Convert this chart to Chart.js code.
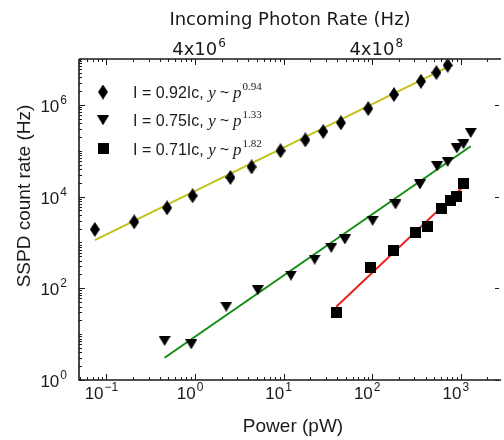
<!DOCTYPE html>
<html>
<head>
<meta charset="utf-8">
<script src="https://cdn.jsdelivr.net/npm/chart.js@4.4.1/dist/chart.umd.min.js"></script>
<style>
    html, body { margin: 0; padding: 0; background: #ffffff; }
    #chart-wrap { width: 504px; height: 440px; position: relative; }
</style>
</head>
<body>
<div id="chart-wrap"><canvas id="sspd-chart"></canvas></div>
<script>
// measured points, power in pW, count rate in Hz
const power_diamond = [0.074, 0.206, 0.484, 0.938, 2.51, 4.35, 9.23, 17.6, 28.0, 44.3, 90.2, 176, 355, 531, 711];
const rate_diamond = [1920, 2810, 5680, 10400, 26100, 44400, 100000, 172000, 262000, 407000, 830000, 1680000, 3270000, 5060000, 7290000];
const power_triangle = [0.453, 0.907, 2.25, 5.11, 12.1, 22.4, 34.5, 49.1, 101, 183, 346, 540, 711, 902, 1072, 1294];
const rate_triangle = [7.1, 6.0, 39.5, 91.4, 189, 422, 763, 1160, 2960, 6730, 18400, 45900, 57000, 112000, 139000, 244000];
const power_square = [39.3, 95, 174, 310, 418, 609, 762, 896, 1072];
const rate_square = [29.9, 280, 656, 1620, 2190, 5590, 8060, 10200, 19300];

// fit line end points
const fit_diamond_power = [0.074, 720];
const fit_diamond_rate = [1120, 6700000];
const fit_triangle_power = [0.453, 1294];
const fit_triangle_rate = [3.06, 125000];
const fit_square_power = [39.3, 1072];
const fit_square_rate = [39.5, 16700];

// legend and axis text
const legend_current = ['I = 0.92Ic, ', 'I = 0.75Ic, ', 'I = 0.71Ic, '];
const legend_exponent = ['0.94', '1.33', '1.82'];
const x_tick_exponents = [-1, 0, 1, 2, 3];
const y_tick_exponents = [0, 2, 4, 6];
const top_tick_powers = [1, 100];
const top_tick_bases = ['4x10', '4x10'];
const top_tick_exponents = ['6', '8'];

const x_title = 'Power (pW)';
const y_title = 'SSPD count rate (Hz)';
const top_title = 'Incoming Photon Rate (Hz)';

const to_points = (xs, ys) => xs.map((x, i) => ({ x: x, y: ys[i] }));

const make_marker = (kind, w, h) => {
    const c = document.createElement('canvas');
    c.width = w;
    c.height = h;
    const g = c.getContext('2d');
    g.fillStyle = '#000000';
    g.beginPath();
    if (kind === 'diamond') {
        g.moveTo(w / 2, 0);
        g.lineTo(w, h / 2);
        g.lineTo(w / 2, h);
        g.lineTo(0, h / 2);
    } else if (kind === 'triangle') {
        g.moveTo(0, 0);
        g.lineTo(w, 0);
        g.lineTo(w / 2, h);
    } else {
        g.rect(0, 0, w, h);
    }
    g.closePath();
    g.fill();
    return c;
};

const diamond_marker = make_marker('diamond', 10, 15);
const triangle_marker = make_marker('triangle', 12, 10);
const square_marker = make_marker('square', 11, 11);
const legend_markers = [diamond_marker, triangle_marker, square_marker];

const draw_power = (ctx, base, sup, x, y, align, base_font, sup_font, rise) => {
    ctx.font = base_font;
    const wb = ctx.measureText(base).width;
    ctx.font = sup_font;
    const ws = ctx.measureText(sup).width;
    const total = wb + 1 + ws;
    let x0 = x;
    if (align === 'center') x0 = x - total / 2;
    if (align === 'right') x0 = x - total;
    ctx.textAlign = 'left';
    ctx.textBaseline = 'alphabetic';
    ctx.font = base_font;
    ctx.fillText(base, x0, y);
    ctx.font = sup_font;
    ctx.fillText(sup, x0 + wb + 1, y - rise);
};

const frame_plugin = {
    id: 'frame_plugin',
    afterDatasetsDraw(chart) {
        const ctx = chart.ctx;
        const area = chart.chartArea;
        const xs = chart.scales.x;
        const ys = chart.scales.y;
        ctx.save();
        ctx.strokeStyle = '#1a1a1a';
        ctx.fillStyle = '#1a1a1a';

        // ticks, pointing inward
        ctx.lineWidth = 1;
        ctx.beginPath();
        for (let k = -2; k <= 3; k++) {
            for (let m = 1; m <= 9; m++) {
                const v = m * Math.pow(10, k);
                if (v < xs.min || v > xs.max) continue;
                const px = Math.round(xs.getPixelForValue(v)) + 0.5;
                const len = m === 1 ? 6 : 3;
                ctx.moveTo(px, area.bottom);
                ctx.lineTo(px, area.bottom - len);
                ctx.moveTo(px, area.top);
                ctx.lineTo(px, area.top + len);
            }
        }
        for (let k = 0; k <= 7; k++) {
            for (let m = 1; m <= 9; m++) {
                const v = m * Math.pow(10, k);
                if (v < ys.min || v > ys.max) continue;
                const py = Math.round(ys.getPixelForValue(v)) + 0.5;
                const major = m === 1 && k % 2 === 0;
                const len = major ? 6 : 3;
                ctx.moveTo(area.left, py);
                ctx.lineTo(area.left + len, py);
                if (major) {
                    ctx.moveTo(area.right, py);
                    ctx.lineTo(area.right - 4, py);
                }
            }
        }
        ctx.stroke();

        // spines
        ctx.lineWidth = 1.6;
        ctx.beginPath();
        ctx.moveTo(area.left, area.top);
        ctx.lineTo(area.right + 2, area.top);
        ctx.moveTo(area.left, area.top);
        ctx.lineTo(area.left, area.bottom);
        ctx.lineTo(area.right + 2, area.bottom);
        ctx.stroke();

        // bottom tick labels
        x_tick_exponents.forEach((e) => {
            const px = xs.getPixelForValue(Math.pow(10, e));
            draw_power(ctx, '10', String(e).replace('-', '\u2212'), px - 5, 399, 'center',
                '17px "Liberation Sans", Arial, sans-serif', '12px "Liberation Sans", Arial, sans-serif', 8);
        });
        // left tick labels
        y_tick_exponents.forEach((e) => {
            const py = ys.getPixelForValue(Math.pow(10, e));
            draw_power(ctx, '10', String(e), 67, py + 7, 'right',
                '17px "Liberation Sans", Arial, sans-serif', '12px "Liberation Sans", Arial, sans-serif', 8);
        });
        // top tick labels
        top_tick_powers.forEach((p, i) => {
            const px = xs.getPixelForValue(p);
            draw_power(ctx, top_tick_bases[i], top_tick_exponents[i], px + 4, 55, 'center',
                '18px "DejaVu Sans", sans-serif', '12px "DejaVu Sans", sans-serif', 8);
        });

        // axis titles
        ctx.textAlign = 'center';
        ctx.textBaseline = 'alphabetic';
        ctx.font = '19px "Liberation Sans", Arial, sans-serif';
        ctx.fillText(x_title, 293, 432);
        ctx.font = '18px "DejaVu Sans", sans-serif';
        ctx.fillText(top_title, 290, 25);
        ctx.save();
        ctx.translate(30, 196);
        ctx.rotate(-Math.PI / 2);
        ctx.font = '19px "Liberation Sans", Arial, sans-serif';
        ctx.fillText(y_title, 0, 0);
        ctx.restore();

        // legend
        legend_current.forEach((label, i) => {
            const cy = 92 + i * 28.3;
            const mk = legend_markers[i];
            ctx.drawImage(mk, 103 - mk.width / 2, cy - mk.height / 2);
            ctx.textAlign = 'left';
            ctx.textBaseline = 'alphabetic';
            let tx = 133;
            const base_y = cy + 6;
            ctx.font = '16px "Liberation Sans", Arial, sans-serif';
            ctx.fillText(label, tx, base_y);
            tx += ctx.measureText(label).width;
            ctx.font = 'italic 17px "Liberation Serif", "DejaVu Serif", serif';
            ctx.fillText('y', tx, base_y);
            tx += ctx.measureText('y').width + 4;
            ctx.font = '16px "Liberation Sans", Arial, sans-serif';
            ctx.fillText('~', tx, base_y);
            tx += ctx.measureText('~').width + 4;
            ctx.font = 'italic 17px "Liberation Serif", "DejaVu Serif", serif';
            ctx.fillText('p', tx, base_y);
            tx += ctx.measureText('p').width + 1;
            ctx.font = '11px "Liberation Serif", "DejaVu Serif", serif';
            ctx.fillText(legend_exponent[i], tx, base_y - 8);
        });
        ctx.restore();
    }
};

const sspd_chart = document.getElementById('sspd-chart');

new Chart(sspd_chart, {
    type: 'scatter',
    data: {
        datasets: [
            {
                data: to_points(power_diamond, rate_diamond),
                pointStyle: diamond_marker,
                showLine: false,
                order: 1
            },
            {
                data: to_points(power_triangle, rate_triangle),
                pointStyle: triangle_marker,
                showLine: false,
                order: 1
            },
            {
                data: to_points(power_square, rate_square),
                pointStyle: square_marker,
                showLine: false,
                order: 1
            },
            {
                data: to_points(fit_diamond_power, fit_diamond_rate),
                showLine: true,
                borderColor: '#c2c21a',
                borderWidth: 2,
                pointRadius: 0,
                order: 2
            },
            {
                data: to_points(fit_triangle_power, fit_triangle_rate),
                showLine: true,
                borderColor: '#128c12',
                borderWidth: 2,
                pointRadius: 0,
                order: 2
            },
            {
                data: to_points(fit_square_power, fit_square_rate),
                showLine: true,
                borderColor: '#ee1c1c',
                borderWidth: 2,
                pointRadius: 0,
                order: 2
            }
        ]
    },
    options: {
        responsive: true,
        maintainAspectRatio: false,
        animation: false,
        layout: {
            padding: { left: 79, right: 0, top: 59, bottom: 60 }
        },
        plugins: {
            legend: { display: false },
            tooltip: { enabled: false }
        },
        scales: {
            x: {
                type: 'logarithmic',
                min: 0.049,
                max: 2700,
                display: false
            },
            y: {
                type: 'logarithmic',
                min: 1,
                max: 10000000,
                display: false
            }
        }
    },
    plugins: [frame_plugin]
});
</script>
</body>
</html>
